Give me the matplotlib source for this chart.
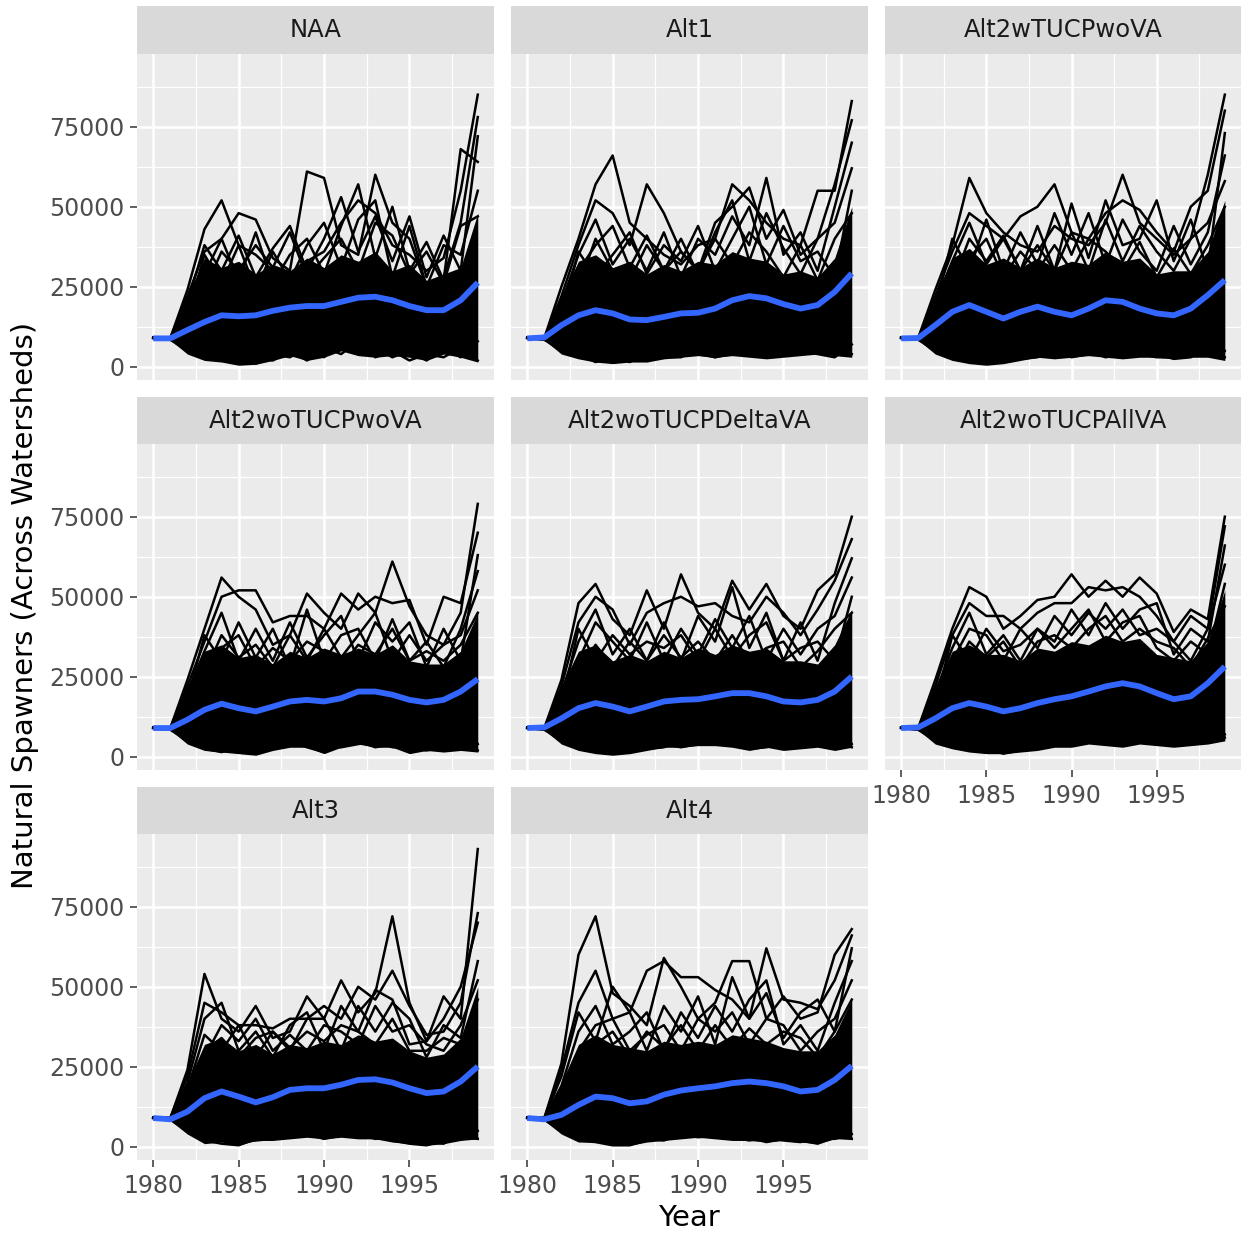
import matplotlib

matplotlib.use("Agg")
import matplotlib.pyplot as plt
import numpy as np

# all spawner values below are in thousands
YEARS = list(range(1980, 2000))
PANEL_NAMES = [
    "NAA", "Alt1", "Alt2wTUCPwoVA",
    "Alt2woTUCPwoVA", "Alt2woTUCPDeltaVA", "Alt2woTUCPAllVA",
    "Alt3", "Alt4",
]

# --- NAA
NAA_SMOOTH = [8.9, 8.9, 11.5, 14.0, 16.1, 15.8, 16.1, 17.5, 18.5, 19.0, 19.0, 20.3, 21.6, 21.9, 20.8, 19.0, 17.7, 17.7, 20.8, 26.3]
NAA_LOW = [8.8, 8.4, 4.0, 2.0, 1.5, 0.5, 0.8, 2.0, 3.5, 2.0, 3.0, 5.0, 3.5, 3.0, 3.5, 3.0, 2.0, 4.0, 3.0, 1.5]
NAA_HIGH = [9.2, 9.5, 22, 34, 31, 33, 29, 32, 30, 34, 31, 35, 33, 36, 30, 32, 27, 29, 31, 48]
NAA_TRACES = [
    [9.2, 9.0, 24, 43, 52, 38, 35, 30, 28, 33, 36, 45, 52, 48, 38, 35, 30, 34, 55, 85],
    [9.2, 9.0, 22, 36, 40, 48, 46, 34, 30, 61, 59, 38, 35, 60, 45, 40, 25, 28, 45, 78],
    [9.2, 9.0, 20, 38, 30, 41, 28, 37, 44, 30, 40, 53, 36, 47, 33, 47, 28, 41, 30, 72],
    [9.2, 9.0, 18, 29, 40, 27, 42, 26, 35, 40, 29, 44, 57, 34, 50, 30, 39, 27, 68, 64],
    [9.2, 9.0, 16, 35, 26, 38, 24, 36, 27, 38, 45, 31, 46, 52, 28, 44, 25, 38, 35, 55],
    [9.2, 9.0, 14, 24, 36, 30, 38, 31, 42, 28, 34, 40, 30, 45, 41, 29, 36, 26, 44, 47],
    [9.0, 8.5, 5, 3, 2, 1, 3, 2, 5, 2, 6, 4, 8, 3, 5, 2, 4, 3, 6, 2],
    [9.0, 8.5, 6, 4, 3, 5, 1, 4, 3, 6, 3, 9, 4, 6, 3, 5, 2, 6, 3, 8],
]

# --- Alt1
ALT1_SMOOTH = [8.9, 9.2, 13.0, 16.1, 17.7, 16.7, 14.8, 14.6, 15.6, 16.7, 16.9, 18.2, 20.8, 22.1, 21.4, 19.6, 18.2, 19.3, 23.4, 29.2]
ALT1_LOW = [8.8, 8.4, 4, 2.5, 1.5, 1.0, 1.5, 1.5, 2.5, 3, 3.5, 3, 3.5, 3, 2.5, 3, 3.5, 4, 3.5, 3]
ALT1_HIGH = [9.2, 9.5, 22, 33, 35, 31, 33, 29, 32, 30, 33, 32, 36, 34, 33, 29, 30, 28, 34, 50]
ALT1_TRACES = [
    [9.2, 9.0, 25, 40, 57, 66, 45, 40, 35, 32, 38, 40, 57, 52, 45, 40, 38, 55, 55, 83],
    [9.2, 9.0, 22, 38, 52, 48, 38, 57, 48, 36, 30, 45, 50, 56, 40, 49, 35, 40, 57, 77],
    [9.2, 9.0, 20, 35, 46, 32, 40, 30, 42, 28, 40, 35, 47, 38, 59, 35, 42, 30, 50, 70],
    [9.2, 9.0, 18, 30, 38, 44, 31, 41, 30, 40, 29, 42, 52, 33, 48, 37, 29, 40, 45, 62],
    [9.2, 9.0, 16, 36, 28, 35, 42, 29, 38, 33, 44, 30, 40, 50, 32, 44, 33, 36, 28, 55],
    [9.2, 9.0, 14, 25, 40, 30, 27, 38, 30, 36, 30, 40, 32, 42, 36, 28, 38, 27, 40, 48],
    [9.0, 8.5, 5, 3, 2, 1.5, 2, 2, 3, 4, 4, 3, 5, 4, 3, 5, 4, 5, 6, 4],
    [9.0, 8.5, 6, 4, 1.5, 3, 1.5, 4, 3, 3, 6, 3, 4, 6, 3, 4, 5, 4, 3, 7],
]

# --- Alt2wTUCPwoVA
A2W_SMOOTH = [8.9, 9.0, 13.0, 17.2, 19.3, 17.2, 15.1, 17.2, 18.8, 17.2, 16.1, 18.2, 20.8, 20.3, 18.2, 16.7, 16.1, 18.2, 22.4, 27.1]
A2W_LOW = [8.8, 8.4, 4, 2, 1, 0.5, 1, 2, 3, 2.5, 3, 3.5, 3, 2.5, 3, 3, 2.5, 3, 3, 2]
A2W_HIGH = [9.2, 9.5, 22, 34, 37, 32, 34, 31, 34, 31, 33, 32, 36, 33, 34, 29, 30, 30, 36, 52]
A2W_TRACES = [
    [9.2, 9.0, 24, 38, 59, 48, 42, 38, 36, 44, 40, 38, 45, 60, 45, 40, 35, 40, 60, 85],
    [9.2, 9.0, 22, 36, 48, 44, 40, 47, 50, 57, 42, 40, 48, 52, 49, 42, 36, 50, 55, 80],
    [9.2, 9.0, 20, 33, 45, 32, 40, 30, 44, 30, 51, 34, 52, 38, 40, 52, 33, 46, 30, 73],
    [9.2, 9.0, 18, 40, 30, 46, 30, 42, 32, 48, 35, 48, 32, 46, 36, 30, 44, 32, 42, 66],
    [9.2, 9.0, 16, 26, 40, 33, 41, 30, 38, 30, 42, 30, 46, 33, 44, 36, 30, 40, 45, 58],
    [9.2, 9.0, 14, 30, 34, 40, 28, 36, 30, 38, 30, 40, 36, 30, 39, 28, 37, 29, 38, 50],
    [9.0, 8.5, 5, 3, 1.5, 1, 2, 3, 4, 3, 4, 5, 3, 4, 4, 3, 3, 4, 4, 3],
    [9.0, 8.5, 6, 2.5, 2, 3, 1.5, 2.5, 3, 5, 3, 4, 5, 3, 5, 4, 2.5, 3, 6, 5],
]

# --- Alt2woTUCPwoVA
A2WO_SMOOTH = [9.0, 9.0, 11.6, 14.7, 16.6, 15.2, 14.2, 15.7, 17.3, 17.8, 17.3, 18.3, 20.4, 20.4, 19.4, 17.8, 17.0, 17.8, 20.4, 24.3]
A2WO_LOW = [8.8, 8.4, 4, 2, 1.5, 1, 0.5, 2, 3, 3, 1, 3, 4, 3, 3, 1, 2, 1.5, 2, 1.5]
A2WO_HIGH = [9.2, 9.5, 22, 33, 35, 31, 32, 29, 33, 31, 34, 32, 34, 32, 35, 30, 29, 29, 33, 45]
A2WO_TRACES = [
    [9.2, 9.0, 24, 40, 56, 50, 46, 35, 38, 51, 45, 40, 51, 45, 61, 47, 38, 35, 45, 79],
    [9.2, 9.0, 22, 36, 50, 52, 52, 42, 44, 44, 40, 51, 46, 50, 48, 49, 35, 50, 48, 70],
    [9.2, 9.0, 20, 33, 45, 30, 40, 30, 42, 31, 38, 44, 30, 42, 36, 42, 28, 40, 30, 63],
    [9.2, 9.0, 18, 38, 30, 42, 31, 40, 28, 46, 30, 38, 40, 30, 43, 30, 36, 28, 40, 58],
    [9.2, 9.0, 16, 26, 38, 31, 35, 28, 38, 30, 40, 31, 38, 45, 30, 38, 30, 35, 38, 52],
    [9.2, 9.0, 14, 30, 34, 38, 28, 34, 30, 36, 33, 28, 35, 32, 40, 30, 33, 30, 35, 45],
    [9.0, 8.5, 5, 3, 2, 1.5, 1, 3, 5, 3, 1.5, 4, 5, 3, 4, 1.5, 3, 2, 3, 2],
    [9.0, 8.5, 6, 2.5, 1.5, 3, 2, 2.5, 4, 5, 3, 3, 4, 5, 3, 3, 2, 3, 2.5, 4],
]

# --- Alt2woTUCPDeltaVA
DELTA_SMOOTH = [9.0, 9.2, 12.0, 15.2, 16.8, 15.7, 14.2, 15.7, 17.3, 17.8, 18.0, 18.9, 19.9, 19.9, 18.9, 17.3, 17.0, 17.8, 20.4, 25.1]
DELTA_LOW = [8.8, 8.4, 4, 2, 1, 0.5, 1, 2, 3, 3, 3.5, 3.5, 3, 2, 3, 2, 2.5, 3, 2, 3]
DELTA_HIGH = [9.2, 9.5, 22, 33, 35, 30, 32, 30, 33, 31, 34, 32, 35, 33, 34, 30, 30, 29, 35, 46]
DELTA_TRACES = [
    [9.2, 9.0, 24, 48, 54, 43, 38, 52, 40, 57, 45, 40, 55, 46, 54, 44, 40, 52, 57, 75],
    [9.2, 9.0, 22, 42, 50, 46, 35, 45, 48, 50, 47, 48, 44, 42, 50, 45, 38, 46, 55, 68],
    [9.2, 9.0, 20, 36, 46, 32, 40, 30, 42, 30, 44, 36, 53, 34, 45, 30, 42, 30, 48, 62],
    [9.2, 9.0, 18, 30, 42, 36, 30, 42, 30, 40, 32, 43, 34, 44, 30, 40, 32, 40, 44, 56],
    [9.2, 9.0, 16, 40, 30, 38, 32, 36, 34, 38, 30, 40, 31, 38, 42, 30, 34, 36, 30, 50],
    [9.2, 9.0, 14, 26, 35, 28, 36, 30, 38, 31, 36, 30, 38, 30, 34, 36, 28, 33, 40, 45],
    [9.0, 8.5, 5, 3, 1.5, 1, 2, 3, 4, 3, 4, 5, 4, 3, 4, 2.5, 3, 4, 3, 4],
    [9.0, 8.5, 6, 2.5, 2, 3, 1.5, 2.5, 3, 5, 4, 4, 5, 2.5, 3, 4, 3, 3.5, 5, 3],
]

# --- Alt2woTUCPAllVA
ALLVA_SMOOTH = [9.0, 9.2, 12.0, 15.2, 16.8, 15.7, 14.2, 15.2, 16.8, 18.0, 18.9, 20.4, 22.0, 23.0, 22.0, 19.9, 18.0, 18.9, 23.0, 28.2]
ALLVA_LOW = [8.8, 8.4, 4, 2.5, 1.5, 1, 1, 1.5, 2, 3, 3, 4, 3.5, 3, 4, 3.5, 3, 3.5, 4, 5]
ALLVA_HIGH = [9.2, 9.5, 22, 33, 35, 32, 32, 30, 34, 33, 36, 35, 38, 36, 37, 32, 31, 30, 36, 52]
ALLVA_TRACES = [
    [9.2, 9.0, 24, 40, 53, 50, 40, 44, 49, 50, 57, 50, 55, 50, 56, 51, 39, 46, 43, 75],
    [9.2, 9.0, 22, 38, 48, 44, 44, 40, 45, 48, 48, 53, 52, 53, 50, 44, 36, 44, 40, 72],
    [9.2, 9.0, 20, 34, 45, 32, 38, 30, 40, 36, 46, 38, 48, 40, 46, 48, 32, 40, 36, 66],
    [9.2, 9.0, 18, 30, 40, 38, 30, 40, 34, 44, 38, 45, 40, 46, 38, 40, 36, 30, 40, 60],
    [9.2, 9.0, 16, 38, 30, 40, 33, 35, 40, 34, 40, 46, 36, 42, 44, 34, 30, 36, 32, 54],
    [9.2, 9.0, 14, 26, 36, 31, 36, 28, 36, 38, 34, 40, 44, 36, 40, 36, 34, 28, 37, 47],
    [9.0, 8.5, 5, 3, 2, 1.5, 1.5, 2, 2.5, 3.5, 4, 5, 4, 4, 5, 4, 3.5, 4, 5, 6],
    [9.0, 8.5, 6, 3, 2, 2.5, 1, 2, 3, 4, 3.5, 4.5, 5, 3.5, 4.5, 5, 4, 5, 4.5, 7],
]

# --- Alt3
ALT3_SMOOTH = [9.0, 8.6, 11.0, 15.2, 17.3, 15.7, 13.9, 15.5, 17.8, 18.3, 18.3, 19.4, 20.9, 21.1, 20.1, 18.3, 16.8, 17.3, 20.4, 25.1]
ALT3_LOW = [8.8, 8.2, 4, 1, 1.5, 0.5, 2, 2, 2.5, 3, 2.5, 3, 2.5, 2.5, 1.5, 1, 0.5, 1, 2, 2.5]
ALT3_HIGH = [9.2, 9.3, 20, 32, 34, 30, 32, 29, 32, 31, 33, 32, 35, 33, 34, 30, 28, 29, 34, 50]
ALT3_TRACES = [
    [9.2, 9.0, 24, 54, 40, 36, 44, 34, 36, 47, 40, 52, 42, 48, 72, 45, 33, 47, 40, 93],
    [9.2, 9.0, 22, 45, 42, 38, 38, 37, 40, 40, 44, 40, 50, 46, 55, 44, 35, 36, 45, 73],
    [9.2, 9.0, 20, 40, 45, 30, 36, 28, 38, 42, 30, 44, 36, 49, 46, 32, 33, 40, 50, 70],
    [9.2, 9.0, 18, 35, 30, 38, 28, 36, 30, 40, 40, 30, 44, 36, 45, 40, 28, 38, 34, 58],
    [9.2, 9.0, 16, 28, 38, 33, 40, 30, 35, 30, 38, 36, 32, 44, 36, 38, 32, 30, 38, 52],
    [9.2, 9.0, 14, 30, 34, 28, 34, 36, 31, 36, 33, 38, 36, 32, 40, 30, 30, 34, 32, 46],
    [9.0, 8.5, 5, 2, 1, 0.5, 2.5, 3, 4, 3.5, 3, 4, 3, 3, 2, 1, 0.5, 2, 3, 2.5],
    [9.0, 8.5, 6, 3, 2, 1.5, 2, 2.5, 3, 4, 2.5, 3.5, 4, 2.5, 3, 2, 1.5, 1, 4, 5],
]

# --- Alt4
ALT4_SMOOTH = [9.0, 8.6, 10.0, 13.1, 15.7, 15.2, 13.6, 14.2, 16.3, 17.6, 18.3, 18.9, 19.9, 20.4, 19.9, 18.9, 17.3, 17.8, 20.9, 25.3]
ALT4_LOW = [8.8, 8.2, 4, 1.5, 1.5, 0.5, 0.5, 1.5, 2, 2.5, 3, 2.5, 2, 2, 1.5, 2, 1.5, 1, 2.5, 2.5]
ALT4_HIGH = [9.2, 9.3, 20, 32, 35, 32, 31, 30, 33, 32, 33, 32, 35, 34, 33, 31, 30, 30, 35, 46]
ALT4_TRACES = [
    [9.2, 9.0, 26, 60, 72, 48, 44, 38, 59, 50, 40, 45, 58, 58, 40, 47, 40, 42, 60, 68],
    [9.2, 9.0, 24, 45, 55, 40, 42, 55, 58, 53, 53, 49, 46, 40, 62, 46, 45, 43, 52, 66],
    [9.2, 9.0, 22, 42, 33, 50, 42, 30, 44, 36, 47, 32, 53, 40, 48, 34, 42, 46, 36, 62],
    [9.2, 9.0, 19, 36, 44, 32, 36, 42, 30, 42, 34, 44, 36, 46, 52, 32, 38, 30, 45, 58],
    [9.2, 9.0, 16, 30, 38, 40, 30, 35, 38, 30, 40, 36, 42, 32, 40, 38, 30, 36, 40, 52],
    [9.2, 9.0, 14, 25, 32, 36, 28, 36, 31, 38, 30, 38, 31, 37, 32, 36, 34, 28, 36, 46],
    [9.0, 8.5, 5, 2, 1.5, 0.5, 0.5, 2, 3, 3, 3.5, 3, 2.5, 3, 1.5, 2.5, 2, 1, 3, 2.5],
    [9.0, 8.5, 6, 3, 2, 1.5, 1, 2.5, 2, 4, 3, 3.5, 3, 2, 3, 2, 1.5, 3, 2.5, 4],
]

PANELS = {
    "NAA": (NAA_SMOOTH, NAA_LOW, NAA_HIGH, NAA_TRACES),
    "Alt1": (ALT1_SMOOTH, ALT1_LOW, ALT1_HIGH, ALT1_TRACES),
    "Alt2wTUCPwoVA": (A2W_SMOOTH, A2W_LOW, A2W_HIGH, A2W_TRACES),
    "Alt2woTUCPwoVA": (A2WO_SMOOTH, A2WO_LOW, A2WO_HIGH, A2WO_TRACES),
    "Alt2woTUCPDeltaVA": (DELTA_SMOOTH, DELTA_LOW, DELTA_HIGH, DELTA_TRACES),
    "Alt2woTUCPAllVA": (ALLVA_SMOOTH, ALLVA_LOW, ALLVA_HIGH, ALLVA_TRACES),
    "Alt3": (ALT3_SMOOTH, ALT3_LOW, ALT3_HIGH, ALT3_TRACES),
    "Alt4": (ALT4_SMOOTH, ALT4_LOW, ALT4_HIGH, ALT4_TRACES),
}

X_TICKS = [1980, 1985, 1990, 1995]
Y_TICKS = [0, 25000, 50000, 75000]

# ------------------------------------------------------------------ layout

W, H = 1241, 1235
COLS = [(137, 494), (511, 868), (885, 1241)]
ROWS = [(6, 54, 380), (397, 444, 770), (787, 834, 1160)]


def _box(x0, y0, x1, y1):
    return [x0 / W, 1 - y1 / H, (x1 - x0) / W, (y1 - y0) / H]


fig = plt.figure(figsize=(W / 100, H / 100), dpi=100)

for i, name in enumerate(PANEL_NAMES):
    r, c = divmod(i, 3)
    x0, x1 = COLS[c]
    s0, s1, p1 = ROWS[r]

    strip = fig.add_axes(_box(x0, s0, x1, s1))
    strip.set_facecolor("#D9D9D9")
    strip.set_xticks([])
    strip.set_yticks([])
    for sp in strip.spines.values():
        sp.set_visible(False)
    strip.text(0.5, 0.5, name, ha="center", va="center", fontsize=17.5, color="#1A1A1A",
               transform=strip.transAxes)

    ax = fig.add_axes(_box(x0, s1, x1, p1))
    ax.set_facecolor("#EBEBEB")
    for sp in ax.spines.values():
        sp.set_visible(False)
    ax.set_xlim(1979.05, 1999.95)
    ax.set_ylim(-4100, 97700)
    ax.set_xticks(X_TICKS, [str(t) for t in X_TICKS])
    ax.set_yticks(Y_TICKS, [str(t) for t in Y_TICKS])
    ax.set_xticks([1982.5, 1987.5, 1992.5, 1997.5], minor=True)
    ax.set_yticks([12500, 37500, 62500, 87500], minor=True)
    ax.set_axisbelow(True)
    ax.grid(which="major", color="white", lw=1.8)
    ax.grid(which="minor", color="white", lw=0.9)

    smooth, low, high, traces = PANELS[name]
    ax.fill_between(YEARS, np.array(low) * 1000, np.array(high) * 1000, color="black", lw=0)
    for tr in traces:
        ax.plot(YEARS, np.array(tr) * 1000, color="black", lw=1.8)
    ax.plot(YEARS, np.array(smooth) * 1000, color="#3366FF", lw=4.2, solid_capstyle="butt")

    ax.tick_params(which="minor", length=0)
    show_x = r == 2 or (r == 1 and c == 2)
    show_y = c == 0
    ax.tick_params(axis="x", which="major", length=5 if show_x else 0, width=1.1,
                   color="#333333", labelcolor="#4D4D4D", labelsize=17, pad=5,
                   labelbottom=show_x)
    ax.tick_params(axis="y", which="major", length=5 if show_y else 0, width=1.1,
                   color="#333333", labelcolor="#4D4D4D", labelsize=17, pad=4,
                   labelleft=show_y)

fig.text(25 / W, 1 - 605 / H, "Natural Spawners (Across Watersheds)", rotation=90,
         ha="center", va="center", fontsize=21)
fig.text(689 / W, 1 - 1218 / H, "Year", ha="center", va="center", fontsize=21)

fig.savefig("out.png", dpi=100)
